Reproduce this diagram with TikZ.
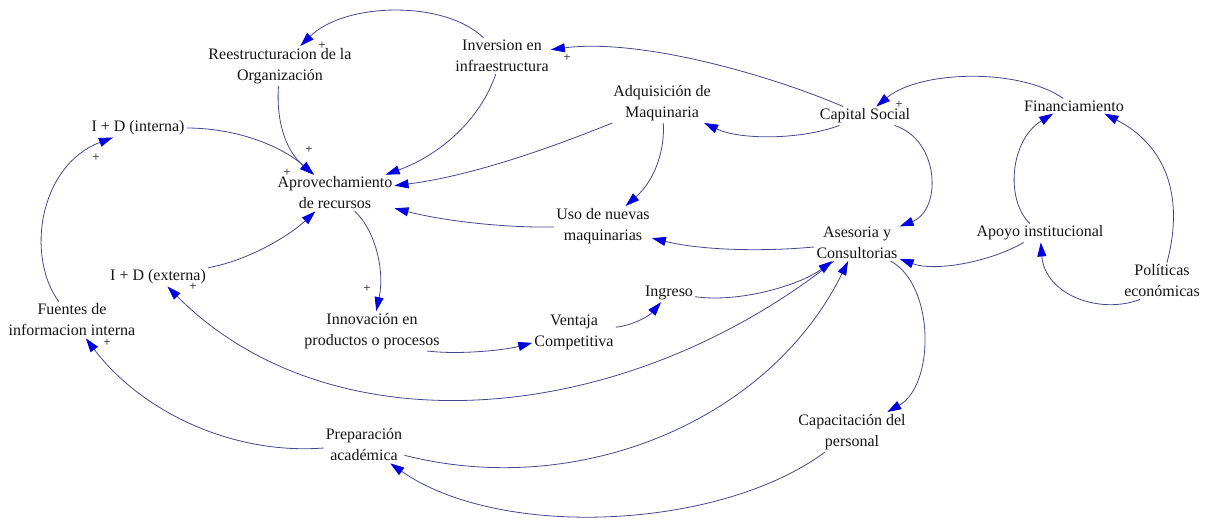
\documentclass[tikz,border=0pt]{standalone}
\usepackage{fontspec}
\setmainfont{Liberation Serif}
\usetikzlibrary{arrows.meta}
\definecolor{linkc}{RGB}{70,70,140}
\definecolor{tipc}{RGB}{0,0,225}
\definecolor{txtc}{RGB}{20,20,20}
\begin{document}
\begin{tikzpicture}[x=1pt,y=-1pt,
 var/.style={align=center, font=\fontsize{16}{21}\selectfont, text=txtc, inner sep=2pt},
 link/.style={draw=linkc, line width=0.8pt, -{Triangle[length=14pt,width=9pt,color=tipc]}},
 sgn/.style={font=\fontsize{13}{13}\selectfont, text=txtc, inner sep=0pt}]
\useasboundingbox (0,0) rectangle (1210,520);
% variables
\node[var] (reest) at (280,66) {Reestructuracion de la\\Organización};
\node[var] (inv) at (502,56) {Inversion en\\infraestructura};
\node[var] (adq) at (662,103) {Adquisición de\\Maquinaria};
\node[var] (cap) at (865,116) {Capital Social};
\node[var] (fin) at (1074,106) {Financiamiento};
\node[var] (idi) at (138,128) {I + D (interna)};
\node[var] (apr) at (335,193) {Aprovechamiento\\de recursos};
\node[var] (uso) at (603,226) {Uso de nuevas\\maquinarias};
\node[var] (ase) at (857,243) {Asesoria y\\Consultorias};
\node[var] (apo) at (1040,233) {Apoyo institucional};
\node[var] (pol) at (1162,281) {Políticas\\económicas};
\node[var] (ide) at (158,277) {I + D (externa)};
\node[var] (fue) at (72,320) {Fuentes de\\informacion interna};
\node[var] (inn) at (372,331) {Innovación en\\productos o procesos};
\node[var] (ven) at (574,332) {Ventaja\\Competitiva};
\node[var] (ing) at (669,293) {Ingreso};
\node[var] (capa) at (852,432) {Capacitación del\\personal};
\node[var] (pre) at (364,445) {Preparación\\académica};
% links
\draw[link] (inv) .. controls (445,0) and (345,2) .. (reest);
\draw[link] (inv) .. controls (480,120) and (440,155) .. (apr);
\draw[link] (reest) .. controls (276,120) and (285,150) .. (apr);
\draw[link] (idi) .. controls (235,128) and (280,145) .. (apr);
\draw[link] (adq) .. controls (570,140) and (480,175) .. (apr);
\draw[link] (uso) .. controls (500,228) and (440,220) .. (apr);
\draw[link] (adq) .. controls (665,150) and (655,180) .. (uso);
\draw[link] (cap) .. controls (770,75) and (640,38) .. (inv);
\draw[link] (cap) .. controls (800,140) and (740,140) .. (adq);
\draw[link] (fin) .. controls (1020,68) and (920,70) .. (cap);
\draw[link] (cap) .. controls (940,140) and (942,210) .. (ase);
\draw[link] (apo) .. controls (1005,200) and (1010,140) .. (fin.200);
\draw[link] (pol) .. controls (1185,195) and (1165,145) .. (fin.-14);
\draw[link] (pol.220) .. controls (1100,315) and (1045,295) .. (apo);
\draw[link] (apo) .. controls (990,262) and (935,272) .. (ase);
\draw[link] (ase) .. controls (760,252) and (700,250) .. (uso);
\draw[link] (ase) .. controls (935,285) and (935,385) .. (capa);
\draw[link] (capa) .. controls (720,530) and (500,540) .. (pre);
\draw[link] (pre) .. controls (230,455) and (140,410) .. (fue);
\draw[link] (pre) .. controls (580,500) and (770,420) .. (ase);
\draw[link] (ase) .. controls (620,430) and (330,450) .. (ide);
\draw[link] (ing) .. controls (740,303) and (800,285) .. (ase);
\draw[link] (inn.-20) .. controls (460,355) and (505,350) .. (ven);
\draw[link] (ven) .. controls (635,325) and (650,315) .. (ing);
\draw[link] (apr) .. controls (375,230) and (385,270) .. (inn);
\draw[link] (ide) .. controls (250,260) and (290,235) .. (apr);
\draw[link] (fue) .. controls (25,255) and (40,165) .. (idi);
% polarity signs
\node[sgn] (s1) at (322,46) {+};
\node[sgn] (s2) at (567,58) {+};
\node[sgn] (s3) at (899,105) {+};
\node[sgn] (s4) at (309,150) {+};
\node[sgn] (s5) at (287,173) {+};
\node[sgn] (s6) at (96,158) {+};
\node[sgn] (s7) at (193,287) {+};
\node[sgn] (s8) at (367,289) {+};
\node[sgn] (s9) at (107,343) {+};
\end{tikzpicture}
\end{document}
